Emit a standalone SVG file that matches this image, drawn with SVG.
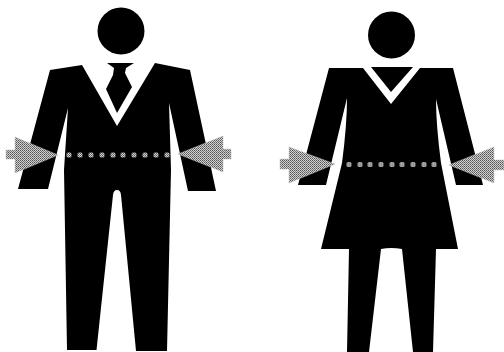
<svg xmlns="http://www.w3.org/2000/svg" width="504" height="352" viewBox="0 0 504 352">
<style>.k{fill:#000}.a{fill:url(#dither);stroke:#bbb;stroke-width:.5}.d{fill:url(#dither)}</style>
<defs>
<pattern id="dither" width="2" height="2" patternUnits="userSpaceOnUse">
<rect width="2" height="2" fill="#d0d0d0"/>
<rect x="0" y="0" width="1" height="1" fill="#555"/>
<rect x="1" y="1" width="1" height="1" fill="#777"/>
</pattern>
<g id="dot"><rect x="-2.500" y="-2.500" width="5" height="5" rx="1.500" class="d"/></g>
</defs>
<rect width="504" height="352" fill="#fff"/>
<g id="man">
<circle class="k" cx="121" cy="31" r="23.5"/>
<path class="k" d="M82 65L50 70L18 189H48L68 108L64 170L67 350H96.5L113 195Q113.500 190 117 190Q120.500 190 121 195L136 351H167L171 170L169 103L188 191H216L190 70L155 63L117 126Z"/>
<path class="k" d="M107 63H134L126 68L125 73L132 87L117 113L106 89L113 75L114 68Z"/>
</g>
<g id="woman">
<circle class="k" cx="391.500" cy="35" r="23.500"/>
<path class="k" d="M329 68H363L391 104L420 68H453L483 185H456L436 99Q436 125 441 163L458 249H436L433 352H413L402 249Q391 247 381 249L369 352H347L349 249H321L333 200L342 163Q347 125 347 98L326 185H298Z"/>
<path class="k" d="M371 67H413L391 92Z"/>
</g>
<g id="waist-man">
<path class="a" d="M58 155L15 137V150H6V159H15V173Z"/>
<path class="a" d="M178 154L223 136V149H231V159H223V172Z"/>
<use href="#dot" x="69" y="155"/><use href="#dot" x="80" y="155"/><use href="#dot" x="91" y="155"/><use href="#dot" x="102" y="155"/><use href="#dot" x="113" y="155"/><use href="#dot" x="123" y="155"/><use href="#dot" x="134" y="155"/><use href="#dot" x="145" y="155"/><use href="#dot" x="156" y="155"/><use href="#dot" x="167" y="155"/>
</g>
<g id="waist-woman">
<path class="a" d="M335 164L289 147V159H280V169H289V183Z"/>
<path class="a" d="M449 165L494 147V160H504V170H494V183Z"/>
<use href="#dot" x="349" y="164.500"/><use href="#dot" x="360" y="164.500"/><use href="#dot" x="370" y="164.500"/><use href="#dot" x="381" y="164.500"/><use href="#dot" x="392" y="164.500"/><use href="#dot" x="402" y="164.500"/><use href="#dot" x="413" y="164.500"/><use href="#dot" x="424" y="164.500"/><use href="#dot" x="434" y="164.500"/>
</g>
</svg>
